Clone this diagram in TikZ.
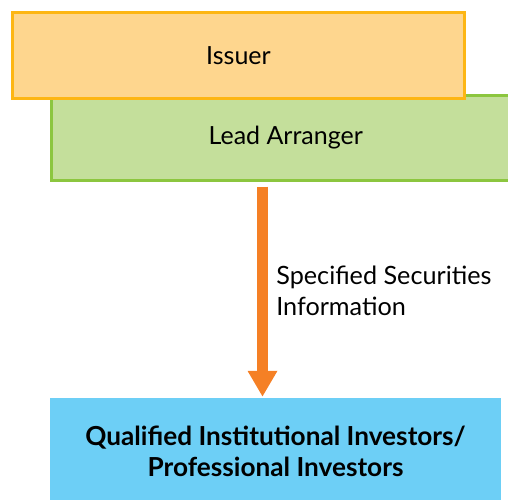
\documentclass[tikz,border=0pt]{standalone}
\usepackage{fontspec}
\setmainfont{Lato}
\usetikzlibrary{arrows.meta}
\definecolor{issuerfill}{HTML}{FED68E}
\definecolor{issuerline}{HTML}{FDB614}
\definecolor{leadfill}{HTML}{C4DF9B}
\definecolor{leadline}{HTML}{8CC63F}
\definecolor{investorfill}{HTML}{6DCFF6}
\definecolor{floworange}{HTML}{F58025}
\begin{document}
\begin{tikzpicture}[x=1pt,y=1pt,
    partybox/.style={draw, line width=3pt, inner sep=0pt, font=\fontsize{25}{30}\selectfont},
    flowarrow/.style={draw=floworange, line width=11pt, -{Triangle[width=28pt,length=26pt]}}]
    \useasboundingbox (0,0) rectangle (508,499);
    \clip (0,0) rectangle (508,499);

    \node[partybox, draw=leadline, fill=leadfill, minimum width=468.5pt, minimum height=85pt] (lead) at (285.75,361) {Lead Arranger};
    \node[partybox, draw=issuerline, fill=issuerfill, minimum width=452pt, minimum height=86pt] (issuer) at (238.5,443.5) {Issuer};
    \node[fill=investorfill, minimum width=451pt, minimum height=107pt, align=center,
          font=\bfseries\fontsize{26.2}{31}\selectfont] (investors) at (275.5,47.5) {Qualified Institutional Investors/\\Professional Investors};

    \coordinate (flowx) at (262.5,0);
    \draw[flowarrow, shorten <=4.5pt, shorten >=1pt] (lead.south -| flowx) -- node[right, xshift=5pt, yshift=-1pt, align=left, font=\fontsize{25.2}{31.5}\selectfont] (info) {Specified Securities\\Information} (investors.north -| flowx);
\end{tikzpicture}
\end{document}
